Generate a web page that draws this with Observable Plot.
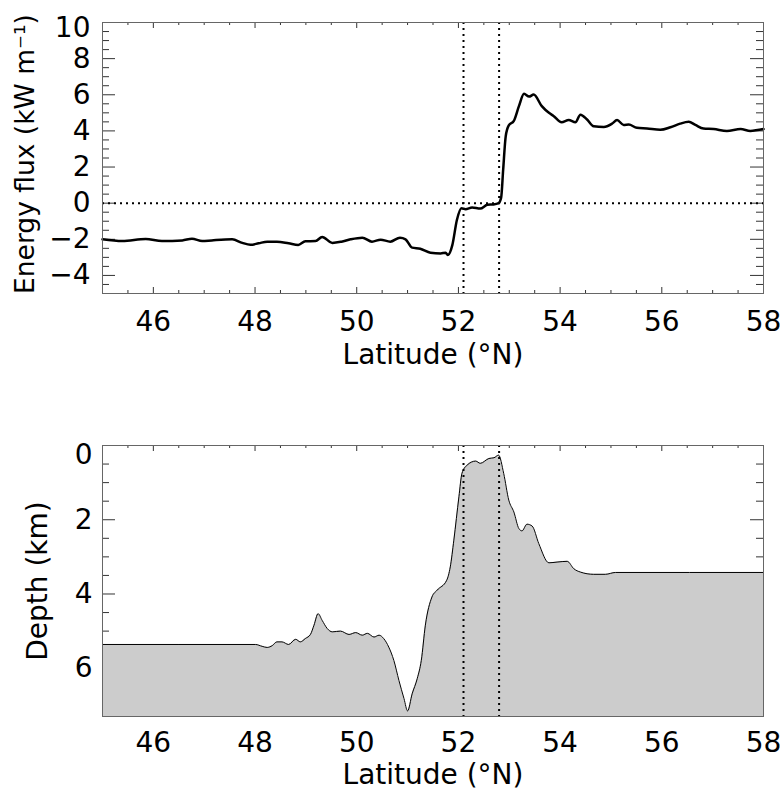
<!DOCTYPE html>
<html><head><meta charset="utf-8">
<script src="https://cdn.jsdelivr.net/npm/d3@7"></script>
<script src="https://cdn.jsdelivr.net/npm/@observablehq/plot@0.6"></script>
<style>body{margin:0;background:#fff;} svg{display:block;}</style>
</head><body><div id="chart"></div>
<script>
// Energy flux series
const fluxLat = [45.00,45.39,45.85,46.17,46.57,46.76,46.96,47.15,47.55,47.75,47.91,48.07,48.24,48.43,48.66,48.85,48.99,49.19,49.32,49.52,49.70,49.88,50.11,50.30,50.47,50.66,50.85,50.96,51.09,51.25,51.45,51.65,51.75,51.79,51.88,51.97,52.06,52.14,52.27,52.43,52.57,52.69,52.79,52.84,52.88,52.93,52.99,53.09,53.19,53.29,53.39,53.48,53.64,53.78,53.87,54.03,54.17,54.30,54.40,54.53,54.66,54.86,55.02,55.12,55.25,55.35,55.51,55.71,55.97,56.17,56.36,56.53,56.66,56.82,57.02,57.28,57.55,57.74,58.00];
const flux = [-2.00,-2.10,-1.98,-2.10,-2.06,-1.97,-2.10,-2.06,-2.00,-2.20,-2.30,-2.22,-2.13,-2.13,-2.22,-2.31,-2.11,-2.10,-1.87,-2.20,-2.13,-2.00,-1.91,-2.13,-2.02,-2.13,-1.91,-2.00,-2.46,-2.52,-2.74,-2.78,-2.74,-2.87,-2.32,-0.93,-0.28,-0.33,-0.24,-0.30,-0.09,-0.07,0.00,0.30,1.85,3.70,4.30,4.55,5.37,6.05,5.90,6.01,5.37,5.00,4.83,4.48,4.60,4.48,4.90,4.63,4.26,4.22,4.40,4.60,4.33,4.35,4.17,4.13,4.06,4.20,4.40,4.50,4.33,4.13,4.10,4.00,4.10,4.00,4.10];

// Depth series
const depthLat = [45.00,48.01,48.14,48.24,48.34,48.43,48.53,48.66,48.80,48.89,48.99,49.09,49.16,49.24,49.32,49.42,49.52,49.68,49.85,49.98,50.11,50.21,50.34,50.44,50.53,50.63,50.73,50.83,50.93,51.00,51.09,51.19,51.27,51.35,51.48,51.58,51.77,51.84,51.91,52.01,52.07,52.17,52.34,52.43,52.60,52.70,52.79,52.89,52.99,53.09,53.19,53.25,53.35,53.45,53.58,53.78,53.94,54.14,54.27,54.40,54.66,54.89,55.09,58.00];
const depth = [5.36,5.36,5.41,5.44,5.39,5.29,5.29,5.36,5.22,5.29,5.20,5.09,4.84,4.53,4.71,4.93,5.02,5.00,5.09,5.04,5.11,5.06,5.16,5.11,5.20,5.43,5.79,6.33,6.82,7.15,6.69,6.28,5.79,4.84,4.08,3.90,3.63,3.27,2.55,1.38,0.75,0.53,0.42,0.48,0.35,0.33,0.26,0.75,1.47,1.79,2.24,2.30,2.12,2.17,2.64,3.16,3.14,3.12,3.32,3.41,3.47,3.47,3.42,3.42];

// Ticks and labels
const xTicks = [46,48,50,52,54,56,58];
const fluxTicks = [-4,-2,0,2,4,6,8];
const fluxTopTick = [10];
const depthTicks = [2,4,6];
const depthTopTick = [0];
const frontLat = [52.1, 52.8];
const xLabel = "Latitude (°N)";
const fluxLabel = "Energy flux (kW m⁻¹)";
const depthLabel = "Depth (km)";

const W = 780, ML = 102, MR = 17;
const FW = W - ML - MR;
const font = "DejaVu Sans, sans-serif";
const FS = 28;
const tickColor = "#333";
const step = (a, b, s) => d3.range(a, b + s / 2, s);
const minorX = step(45, 58, 0.5).filter(v => v % 2 !== 0);
const majorX = step(46, 58, 2);

function tickMarks(H, minorY, majorY) {
  const o = {stroke: tickColor, strokeWidth: 1};
  return [
    Plot.ruleX(minorX, {...o, insetTop: H - 3}),
    Plot.ruleX(majorX, {...o, insetTop: H - 6}),
    Plot.ruleX(minorX, {...o, insetBottom: H - 3}),
    Plot.ruleX(majorX, {...o, insetBottom: H - 6}),
    Plot.ruleY(minorY, {...o, insetRight: FW - 7}),
    Plot.ruleY(majorY, {...o, insetRight: FW - 13}),
    Plot.ruleY(minorY, {...o, insetLeft: FW - 7}),
    Plot.ruleY(majorY, {...o, insetLeft: FW - 13})
  ];
}

const dotted = {stroke: "black", strokeWidth: 2, strokeDasharray: "2,4"};
const labelOpts = {text: d => d, fontSize: FS, textAnchor: "middle", lineAnchor: "middle"};

// Top chart
const topH = 400, topMT = 22, topMB = 107;
const topFH = topH - topMT - topMB;
const fluxData = fluxLat.map((x, i) => ({x, y: flux[i]}));
const fluxMajor = step(-4, 10, 2);
const fluxMinor = step(-5, 10, 0.5).filter(v => !fluxMajor.includes(v));

const topChart = Plot.plot({
  width: W, height: topH,
  marginLeft: ML, marginRight: MR, marginTop: topMT, marginBottom: topMB,
  style: {fontFamily: font, fontSize: FS + "px", background: "white", overflow: "visible"},
  x: {domain: [45, 58]},
  y: {domain: [-5, 10]},
  marks: [
    ...tickMarks(topFH, fluxMinor, fluxMajor),
    Plot.ruleY([0], dotted),
    Plot.ruleX(frontLat, dotted),
    Plot.line(fluxData, {x: "x", y: "y", stroke: "black", strokeWidth: 2.5, curve: "monotone-x"}),
    Plot.frame({stroke: "#666"}),
    Plot.axisX({ticks: xTicks, tickSize: 0, tickPadding: 18, fontSize: FS, label: null}),
    Plot.axisY({ticks: fluxTicks, tickSize: 0, tickPadding: 12, fontSize: FS, label: null}),
    Plot.axisY({ticks: fluxTopTick, tickSize: 0, tickPadding: 12, fontSize: FS, label: null, dy: 6}),
    Plot.text([xLabel], {...labelOpts, frameAnchor: "bottom", dy: 62}),
    Plot.text([fluxLabel], {...labelOpts, fontSize: 26.5, frameAnchor: "left", dx: -77, dy: -4, rotate: -90})
  ]
});

// Bottom chart
const botH = 395, botMT = 45, botMB = 79;
const botFH = botH - botMT - botMB;
const depthMax = 7.3;
const depthData = depthLat.map((x, i) => ({x, y: depth[i]}));
const depthMajor = step(0, 6, 2);
const depthMinor = step(0, 7, 0.5).filter(v => !depthMajor.includes(v));

const bottomChart = Plot.plot({
  width: W, height: botH,
  marginLeft: ML, marginRight: MR, marginTop: botMT, marginBottom: botMB,
  style: {fontFamily: font, fontSize: FS + "px", background: "white", overflow: "visible"},
  x: {domain: [45, 58]},
  y: {domain: [0, depthMax], reverse: true},
  marks: [
    ...tickMarks(botFH, depthMinor, depthMajor),
    Plot.areaY(depthData, {x: "x", y1: () => depthMax, y2: "y", fill: "#cccccc", curve: "monotone-x"}),
    Plot.line(depthData, {x: "x", y: "y", stroke: "black", strokeWidth: 1, curve: "monotone-x"}),
    Plot.ruleX(frontLat, dotted),
    Plot.frame({stroke: "#666"}),
    Plot.axisX({ticks: xTicks, tickSize: 0, tickPadding: 16, fontSize: FS, label: null}),
    Plot.axisY({ticks: depthTicks, tickSize: 0, tickPadding: 10, fontSize: FS, label: null}),
    Plot.axisY({ticks: depthTopTick, tickSize: 0, tickPadding: 10, fontSize: FS, label: null, dy: 10}),
    Plot.text([xLabel], {...labelOpts, frameAnchor: "bottom", dy: 59}),
    Plot.text([depthLabel], {...labelOpts, frameAnchor: "left", dx: -64, rotate: -90})
  ]
});

const c = document.getElementById("chart");
c.appendChild(topChart);
c.appendChild(bottomChart);
</script>
</body></html>
